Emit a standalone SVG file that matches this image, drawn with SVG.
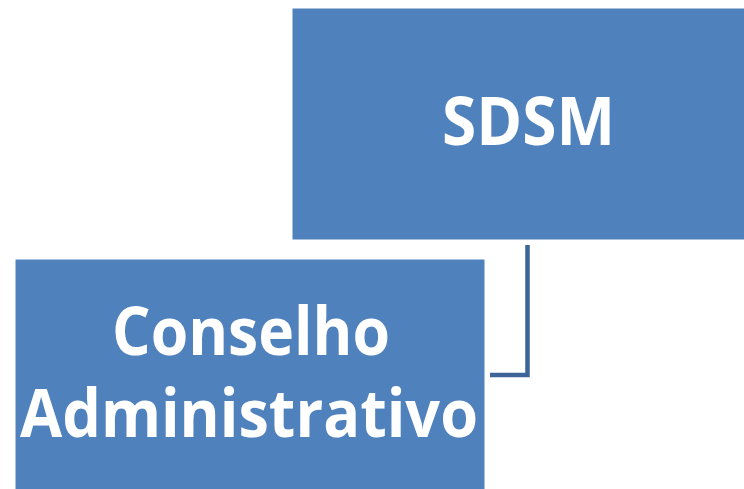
<svg xmlns="http://www.w3.org/2000/svg" width="744" height="489" viewBox="0 0 744 489">
<style>
.box{fill:#4F81BD;stroke:#FFFFFF;stroke-width:1}
.lbl{font-family:"Open Sans","Liberation Sans",sans-serif;font-weight:bold;font-size:66px;fill:#FFFFFF;text-anchor:middle}
.conn{fill:none;stroke:#3C6496;stroke-width:4.5}
</style>
<rect width="744" height="489" fill="#FFFFFF"/>
<g id="connectors">
<path class="conn" d="M527.5 245 V375 H490"/>
</g>
<g id="sdsm">
<rect class="box" x="292" y="8" width="470" height="232"/>
<text class="lbl" x="528.5" y="145" textLength="173" lengthAdjust="spacingAndGlyphs">SDSM</text>
</g>
<g id="conselho">
<rect class="box" x="15" y="259" width="470" height="240"/>
<text class="lbl" x="251" y="355" textLength="278" lengthAdjust="spacingAndGlyphs">Conselho</text>
<text class="lbl" x="249" y="437" textLength="458" lengthAdjust="spacingAndGlyphs">Administrativo</text>
</g>
</svg>
